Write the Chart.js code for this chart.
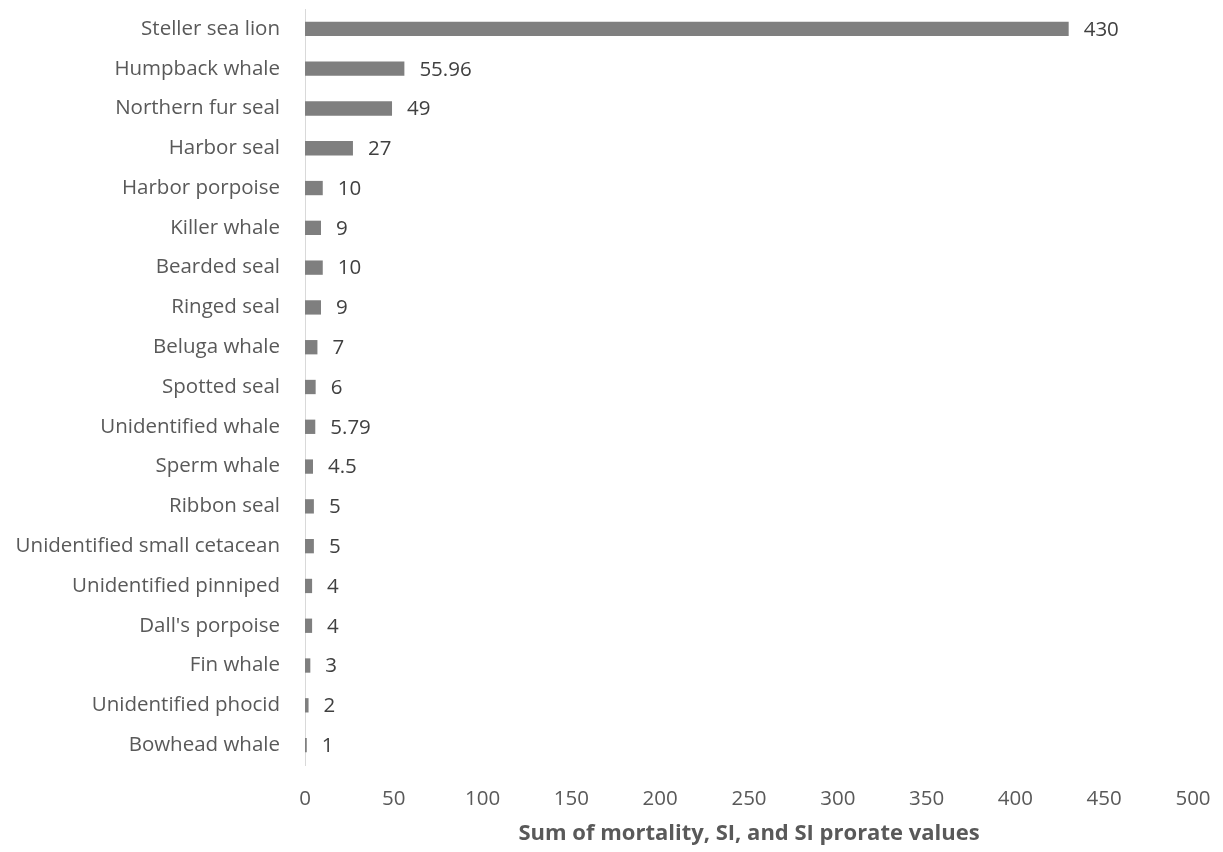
<!DOCTYPE html>
<html>
<head>
<meta charset="utf-8">
<script src="https://cdn.jsdelivr.net/npm/chart.js@4"></script>
<style>
  html, body { margin: 0; padding: 0; background: #fff; }
  #wrap { width: 1223px; height: 852px; }
</style>
</head>
<body>
<div id="wrap"><canvas id="c"></canvas></div>
<script>
const species = [
  'Steller sea lion', 'Humpback whale', 'Northern fur seal', 'Harbor seal',
  'Harbor porpoise', 'Killer whale', 'Bearded seal', 'Ringed seal',
  'Beluga whale', 'Spotted seal', 'Unidentified whale', 'Sperm whale',
  'Ribbon seal', 'Unidentified small cetacean', 'Unidentified pinniped',
  "Dall's porpoise", 'Fin whale', 'Unidentified phocid', 'Bowhead whale'
];
const mortality = [430, 55.96, 49, 27, 10, 9, 10, 9, 7, 6, 5.79, 4.5, 5, 5, 4, 4, 3, 2, 1];
const xTicks = [0, 50, 100, 150, 200, 250, 300, 350, 400, 450, 500];
const xTitle = 'Sum of mortality, SI, and SI prorate values';

const font = '"Open Sans", "Noto Sans", sans-serif';

// value labels to the right of each bar
const valueLabels = {
  id: 'valueLabels',
  afterDatasetsDraw(chart) {
    const ctx = chart.ctx;
    const meta = chart.getDatasetMeta(0);
    ctx.save();
    ctx.font = '20.5px ' + font;
    ctx.fillStyle = '#404040';
    ctx.textAlign = 'left';
    ctx.textBaseline = 'middle';
    meta.data.forEach((bar, i) => {
      ctx.fillText(String(mortality[i]), bar.x + 15, bar.y + 1);
    });
    ctx.restore();
  }
};

// scales add label overhang to the chart area, drop it
const noOverhang = (scale) => {
  scale.paddingTop = 0;
  scale.paddingBottom = 0;
  scale.paddingLeft = 0;
  scale.paddingRight = 0;
};

new Chart(document.getElementById('c'), {
  type: 'bar',
  data: {
    labels: species,
    datasets: [{
      data: mortality,
      backgroundColor: '#7f7f7f',
      categoryPercentage: 1,
      barPercentage: 0.36
    }]
  },
  plugins: [valueLabels],
  options: {
    indexAxis: 'y',
    responsive: true,
    maintainAspectRatio: false,
    animation: false,
    layout: { padding: { top: 9, right: 30, left: 0, bottom: 0 } },
    plugins: {
      legend: { display: false },
      tooltip: { enabled: false }
    },
    scales: {
      x: {
        min: 0,
        max: 500,
        afterBuildTicks(scale) {
          scale.ticks = xTicks.map(v => ({ value: v }));
        },
        afterFit(scale) {
          scale.height = 87;
          noOverhang(scale);
        },
        grid: { display: false },
        border: { display: false },
        ticks: {
          color: '#595959',
          font: { family: font, size: 20.5 },
          padding: 14
        },
        title: {
          display: true,
          text: xTitle,
          color: '#595959',
          font: { family: font, size: 22, weight: 'bold' },
          padding: { top: 8, bottom: 5 }
        }
      },
      y: {
        afterFit(scale) {
          scale.width = 305;
          noOverhang(scale);
        },
        grid: { display: false },
        border: { display: true, color: '#d9d9d9', width: 1 },
        ticks: {
          color: '#595959',
          font: { family: font, size: 20.5 },
          padding: 17
        }
      }
    }
  }
});
</script>
</body>
</html>
